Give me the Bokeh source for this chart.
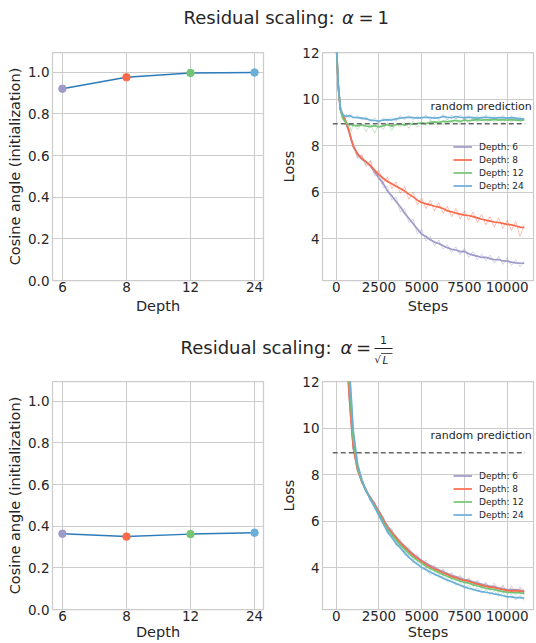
from bokeh.plotting import figure
from bokeh.layouts import column, row
from bokeh.models import (Range1d, FixedTicker, PrintfTickFormatter, Legend,
                          LegendItem, Label)
from bokeh.embed import file_html
from bokeh.resources import INLINE

nan = float("nan")

# ---- data -------------------------------------------------------------
depth_labels = ["6", "8", "12", "24"]
depth_colors = ["#9e9ac8", "#fb6a4a", "#74c476", "#6baed6"]

# cosine angle between token representations at initialization
cos_alpha_one = [0.921, 0.976, 0.997, 0.999]
cos_alpha_scaled = [0.364, 0.350, 0.362, 0.369]

random_loss = 8.94
random_span = [-200, 11050]

steps = [0, 125, 250, 375, 500, 625, 750, 875, 1000, 1250, 1500, 1750, 2000,
         2250, 2500, 2750, 3000, 3250, 3500, 3750, 4000, 4250, 4500, 4750,
         5000, 5250, 5500, 5750, 6000, 6250, 6500, 6750, 7000, 7250, 7500,
         7750, 8000, 8250, 8500, 8750, 9000, 9250, 9500, 9750, 10000, 10250,
         10500, 10750, 11000]

# alpha = 1 : smoothed loss
a1_d6 = [12.5, 10.5, 9.55, 9.3, 9.12, 8.9, 8.6, 8.28, 7.95, 7.62, 7.42, 7.3,
         7.12, 6.88, 6.6, 6.38, 6.05, 5.85, 5.6, 5.38, 5.1, 4.88, 4.65, 4.42,
         4.2, 4.1, 3.96, 3.86, 3.8, 3.7, 3.62, 3.55, 3.52, 3.45, 3.46, 3.36,
         3.3, 3.26, 3.2, 3.2, 3.15, 3.1, 3.11, 3.05, 3.04, 3.0, 2.97, 2.95, 2.95]
a1_d8 = [12.5, 10.5, 9.55, 9.3, 9.15, 8.92, 8.62, 8.3, 7.98, 7.66, 7.45, 7.3,
         7.15, 6.95, 6.76, 6.6, 6.46, 6.36, 6.26, 6.16, 6.05, 5.92, 5.8, 5.66,
         5.56, 5.5, 5.46, 5.4, 5.36, 5.3, 5.2, 5.16, 5.1, 5.06, 5.02, 5.0,
         4.95, 4.9, 4.84, 4.8, 4.76, 4.72, 4.7, 4.66, 4.62, 4.6, 4.55, 4.5, 4.48]
a1_d12 = [12.5, 10.6, 9.55, 9.2, 9.05, 8.95, 8.9, 8.9, 8.87, 8.85, 8.9, 8.84,
          8.82, 8.86, 8.8, 8.85, 8.9, 8.84, 8.9, 8.92, 8.88, 8.95, 8.92, 8.95,
          8.98, 8.95, 9.0, 9.02, 8.99, 9.05, 9.02, 9.05, 9.08, 9.04, 9.1, 9.07,
          9.1, 9.12, 9.09, 9.12, 9.1, 9.13, 9.1, 9.12, 9.09, 9.12, 9.1, 9.11, 9.1]
a1_d24 = [12.5, 10.6, 9.6, 9.35, 9.28, 9.25, 9.3, 9.25, 9.22, 9.2, 9.18, 9.15,
          9.1, 9.08, 9.05, 9.1, 9.12, 9.1, 9.15, 9.18, 9.2, 9.22, 9.2, 9.18,
          9.2, 9.22, 9.2, 9.18, 9.2, 9.25, 9.22, 9.2, 9.25, 9.22, 9.2, 9.22,
          9.2, 9.18, 9.2, 9.22, 9.2, 9.18, 9.2, 9.2, 9.18, 9.2, 9.18, 9.15, 9.15]

# alpha = 1 : raw loss
a1_d6_raw = [12.5, 10.3, 9.45, 9.25, 9.2, 8.75, 8.7, 8.15, 8.05, 7.45, 7.6,
             7.1, 7.35, 6.7, 6.75, 6.2, 6.25, 5.65, 5.8, 5.15, 5.3, 4.7, 4.85,
             4.2, 4.4, 3.9, 4.1, 3.7, 3.95, 3.55, 3.75, 3.4, 3.65, 3.3, 3.6,
             3.2, 3.45, 3.1, 3.35, 3.05, 3.3, 2.95, 3.25, 2.9, 3.2, 2.85, 3.1,
             2.8, 3.05]
a1_d8_raw = [12.5, 10.3, 9.5, 9.2, 9.25, 8.8, 8.75, 8.2, 8.1, 7.5, 7.6, 7.15,
             7.35, 6.8, 6.95, 6.4, 6.65, 6.15, 6.45, 5.95, 6.25, 5.7, 6.0, 5.45,
             5.75, 5.3, 5.65, 5.2, 5.55, 5.1, 5.4, 4.95, 5.3, 4.85, 5.2, 4.8,
             5.15, 4.7, 5.05, 4.6, 4.95, 4.5, 4.9, 4.45, 4.8, 4.35, 4.75, 4.1,
             4.6]
a1_d12_raw = [12.5, 10.5, 9.5, 9.1, 9.1, 8.8, 8.95, 8.6, 8.95, 8.7, 8.95, 8.6,
              8.9, 8.55, 8.9, 8.7, 9.0, 8.65, 8.95, 8.8, 9.0, 8.75, 9.05, 8.8,
              9.05, 8.85, 9.1, 8.9, 9.1, 8.9, 9.15, 8.95, 9.2, 8.9, 9.2, 8.95,
              9.2, 9.0, 9.2, 8.95, 9.2, 9.0, 9.2, 8.95, 9.2, 9.0, 9.2, 9.0, 9.15]
a1_d24_raw = [12.5, 10.5, 9.55, 9.4, 9.2, 9.35, 9.2, 9.35, 9.15, 9.3, 9.1,
              9.25, 9.0, 9.2, 8.95, 9.2, 9.05, 9.2, 9.05, 9.3, 9.1, 9.3, 9.1,
              9.28, 9.12, 9.32, 9.1, 9.28, 9.12, 9.35, 9.12, 9.3, 9.15, 9.32,
              9.1, 9.3, 9.12, 9.28, 9.1, 9.32, 9.12, 9.28, 9.1, 9.3, 9.08, 9.28,
              9.1, 9.25, 9.08]

# alpha = 1/sqrt(L) : smoothed loss (early steps lie above the axis range)
sc_d6 = [nan, nan, nan, nan, nan, 13.3, 11.5, 10.25, 9.15, 8.2, 7.72, 7.32,
         7.03, 6.73, 6.44, 6.1, 5.8, 5.55, 5.33, 5.1, 4.94, 4.75, 4.6, 4.45,
         4.32, 4.2, 4.1, 4.0, 3.92, 3.83, 3.76, 3.67, 3.62, 3.55, 3.5, 3.46,
         3.4, 3.35, 3.3, 3.25, 3.22, 3.18, 3.14, 3.1, 3.07, 3.05, 3.06, 3.03,
         3.02]
sc_d8 = [nan, nan, nan, nan, nan, 13.4, 11.6, 10.3, 9.2, 8.2, 7.7, 7.3, 7.0,
         6.7, 6.4, 6.05, 5.75, 5.5, 5.3, 5.05, 4.9, 4.7, 4.55, 4.4, 4.28, 4.15,
         4.05, 3.95, 3.88, 3.78, 3.72, 3.62, 3.58, 3.5, 3.46, 3.42, 3.36, 3.3,
         3.26, 3.2, 3.17, 3.15, 3.1, 3.06, 3.03, 3.0, 3.02, 3.0, 2.98]
sc_d12 = [nan, nan, nan, nan, nan, 14.0, 12.1, 10.8, 9.5, 8.3, 7.72, 7.28,
          6.96, 6.65, 6.33, 5.97, 5.67, 5.42, 5.2, 4.96, 4.8, 4.61, 4.46, 4.32,
          4.2, 4.07, 3.97, 3.88, 3.8, 3.7, 3.64, 3.55, 3.5, 3.43, 3.38, 3.34,
          3.28, 3.22, 3.18, 3.12, 3.09, 3.06, 3.02, 2.98, 2.95, 2.93, 2.94,
          2.92, 2.9]
sc_d24 = [nan, nan, nan, nan, nan, 15.0, 12.8, 11.4, 9.9, 8.45, 7.8, 7.3, 6.95,
          6.6, 6.25, 5.9, 5.55, 5.3, 5.05, 4.85, 4.65, 4.45, 4.3, 4.15, 4.03,
          3.92, 3.82, 3.72, 3.65, 3.55, 3.48, 3.4, 3.33, 3.25, 3.18, 3.12,
          3.08, 3.02, 2.98, 2.95, 2.92, 2.88, 2.85, 2.8, 2.76, 2.75, 2.72,
          2.72, 2.7]

# alpha = 1/sqrt(L) : raw loss
sc_d6_raw = [nan, nan, nan, nan, nan, 13.2, 11.4, 10.35, 9.05, 8.3, 7.62,
             7.42, 6.93, 6.85, 6.33, 6.22, 5.68, 5.68, 5.2, 5.22, 4.82, 4.88,
             4.48, 4.58, 4.2, 4.33, 3.98, 4.13, 3.8, 3.96, 3.64, 3.8, 3.5, 3.68,
             3.38, 3.58, 3.28, 3.48, 3.18, 3.38, 3.1, 3.34, 3.02, 3.26, 2.95,
             3.22, 2.92, 3.2, 2.9]
sc_d8_raw = [nan, nan, nan, nan, nan, 13.5, 11.5, 10.4, 9.1, 8.3, 7.6, 7.4,
             6.9, 6.8, 6.3, 6.15, 5.65, 5.62, 5.2, 5.15, 4.8, 4.8, 4.45, 4.5,
             4.18, 4.25, 3.95, 4.05, 3.78, 3.9, 3.62, 3.75, 3.48, 3.62, 3.36,
             3.52, 3.24, 3.42, 3.14, 3.34, 3.06, 3.26, 2.98, 3.2, 2.92, 3.14,
             2.9, 3.12, 2.88]
sc_d12_raw = [nan, nan, nan, nan, nan, 14.1, 12.0, 10.9, 9.4, 8.4, 7.65, 7.35,
              6.88, 6.72, 6.25, 6.05, 5.58, 5.5, 5.1, 5.05, 4.7, 4.7, 4.36,
              4.42, 4.1, 4.15, 3.88, 3.95, 3.7, 3.8, 3.55, 3.65, 3.42, 3.52,
              3.3, 3.42, 3.2, 3.32, 3.08, 3.24, 3.0, 3.15, 2.92, 3.08, 2.85,
              3.04, 2.82, 3.02, 2.8]
sc_d24_raw = [nan, nan, nan, nan, nan, 15.1, 12.7, 11.5, 9.8, 8.55, 7.7, 7.4,
              6.85, 6.7, 6.15, 6.0, 5.45, 5.4, 4.95, 4.95, 4.55, 4.55, 4.2,
              4.25, 3.92, 4.0, 3.7, 3.82, 3.58, 3.65, 3.4, 3.5, 3.25, 3.38, 3.1,
              3.25, 3.0, 3.15, 2.9, 3.06, 2.85, 3.02, 2.78, 2.95, 2.68, 2.85,
              2.62, 2.82, 2.6]

for series in (a1_d6, a1_d8, a1_d12, a1_d24, a1_d6_raw, a1_d8_raw, a1_d12_raw,
               a1_d24_raw, sc_d6, sc_d8, sc_d12, sc_d24, sc_d6_raw, sc_d8_raw,
               sc_d12_raw, sc_d24_raw):
    assert len(series) == len(steps), len(series)

# ---- styling ----------------------------------------------------------
FONT = "DejaVu Sans"
INK = "#262626"
GRID = "#cccccc"


def style(p, label_standoff, title_standoff):
    for ax in (p.xaxis[0], p.yaxis[0]):
        ax.axis_line_color = None
        ax.major_tick_line_color = None
        ax.minor_tick_line_color = None
        ax.major_tick_out = 0
        ax.major_tick_in = 0
        ax.minor_tick_out = 0
        ax.minor_tick_in = 0
        ax.major_label_text_font = FONT
        ax.major_label_text_font_size = "13.5px"
        ax.major_label_text_color = INK
        ax.axis_label_text_font = FONT
        ax.axis_label_text_font_size = "14.5px"
        ax.axis_label_text_font_style = "normal"
        ax.axis_label_text_color = INK
    p.yaxis.major_label_standoff = 3
    p.yaxis.axis_label_standoff = 2
    p.xaxis.major_label_standoff = label_standoff
    p.xaxis.axis_label_standoff = title_standoff
    p.grid.grid_line_color = GRID
    p.grid.grid_line_width = 1
    p.outline_line_color = GRID
    p.outline_line_width = 1.25
    p.background_fill_color = "white"
    p.border_fill_color = "white"


def cosine_panel(vals, height, top, bottom, standoffs):
    xs = list(range(len(depth_labels)))
    p = figure(width=278, height=height, output_backend="svg",
               toolbar_location=None,
               x_range=Range1d(-0.155, 3.14), y_range=Range1d(0, 1.095),
               min_border_left=52, min_border_right=15,
               min_border_top=top, min_border_bottom=bottom)
    style(p, *standoffs)
    p.line(xs, vals, line_color="#2b7bba", line_width=1.5)
    p.scatter(xs, vals, size=7.5, fill_color=depth_colors,
              line_color=depth_colors)
    p.xaxis.ticker = FixedTicker(ticks=xs)
    p.xaxis.major_label_overrides = {i: lab for i, lab in enumerate(depth_labels)}
    p.yaxis.ticker = FixedTicker(ticks=[0, 0.2, 0.4, 0.6, 0.8, 1.0])
    p.yaxis.formatter = PrintfTickFormatter(format="%.1f")
    p.xaxis.axis_label = "Depth"
    p.yaxis.axis_label = "Cosine angle (initialization)"
    return p


def loss_panel(smooth, raw, height, top, bottom, standoffs):
    p = figure(width=258, height=height, output_backend="svg",
               toolbar_location=None,
               x_range=Range1d(-800, 11540), y_range=Range1d(2.21, 12),
               min_border_left=44, min_border_right=3,
               min_border_top=top, min_border_bottom=bottom)
    style(p, *standoffs)
    for col, r in zip(depth_colors, raw):
        p.line(steps, r, line_color=col, line_width=1, line_alpha=0.4)
    items = []
    for lab, col, s in zip(depth_labels, depth_colors, smooth):
        gl = p.line(steps, s, line_color=col, line_width=1.7)
        items.append(LegendItem(label="Depth: " + lab, renderers=[gl]))
    p.line(random_span, [random_loss, random_loss], line_color="#666666",
           line_width=1.3, line_dash="5 3")
    p.add_layout(Label(x=5515, y=9.67, text="random prediction",
                       text_font=FONT, text_font_size="11px",
                       text_color=INK, text_baseline="middle"))
    legend = Legend(items=items, location=(131, 88),
                    label_text_font=FONT, label_text_font_size="9px",
                    label_text_color=INK, glyph_width=19, glyph_height=13,
                    label_height=13, label_standoff=7, spacing=0, padding=0,
                    margin=0, border_line_alpha=0, background_fill_alpha=0)
    p.add_layout(legend)
    p.xaxis.ticker = FixedTicker(ticks=[0, 2500, 5000, 7500, 10000])
    p.yaxis.ticker = FixedTicker(ticks=[4, 6, 8, 10, 12])
    p.xaxis.axis_label = "Steps"
    p.yaxis.axis_label = "Loss"
    return p


def banner(height):
    t = figure(width=536, height=height, output_backend="svg",
               toolbar_location=None, x_axis_location=None,
               y_axis_location=None, x_range=Range1d(0, 536),
               y_range=Range1d(height, 0), min_border=0,
               outline_line_color=None)
    t.grid.visible = False
    return t


def put(t, x, y, text, size, style="normal", align="left"):
    t.add_layout(Label(x=x, y=y, text=text, text_font=FONT,
                       text_font_size=size, text_font_style=style,
                       text_color=INK, text_align=align,
                       text_baseline="middle"))


# top heading: alpha = 1
head1 = banner(42)
put(head1, 183, 17, "Residual scaling:", "18px")
put(head1, 341.5, 17, "α", "18px", "italic")
put(head1, 358, 17, "=", "18px")
put(head1, 377, 17, "1", "18px")

# second heading: alpha = 1/sqrt(L)
head2 = banner(52)
put(head2, 180, 27, "Residual scaling:", "18px")
put(head2, 340, 27, "α", "18px", "italic")
put(head2, 355.5, 27, "=", "18px")
put(head2, 383, 19, "1", "11px", align="center")
head2.line([374, 392], [28, 28], line_color=INK, line_width=1)
put(head2, 374, 38.5, "√", "10px")
put(head2, 382, 39, "L", "10.5px", "italic")
head2.line([380.5, 392], [33, 33], line_color=INK, line_width=0.8)

p1 = cosine_panel(cos_alpha_one, 278, 10, 40, (1, 3))
p2 = loss_panel([a1_d6, a1_d8, a1_d12, a1_d24],
                [a1_d6_raw, a1_d8_raw, a1_d12_raw, a1_d24_raw], 278, 10, 40,
                (1, 3))
p3 = cosine_panel(cos_alpha_scaled, 271, 9, 34, (1, 0))
p4 = loss_panel([sc_d6, sc_d8, sc_d12, sc_d24],
                [sc_d6_raw, sc_d8_raw, sc_d12_raw, sc_d24_raw], 271, 9, 34,
                (1, 0))

page = column(head1, row(p1, p2), head2, row(p3, p4))

open("out.html", "w").write(file_html(page, INLINE))
